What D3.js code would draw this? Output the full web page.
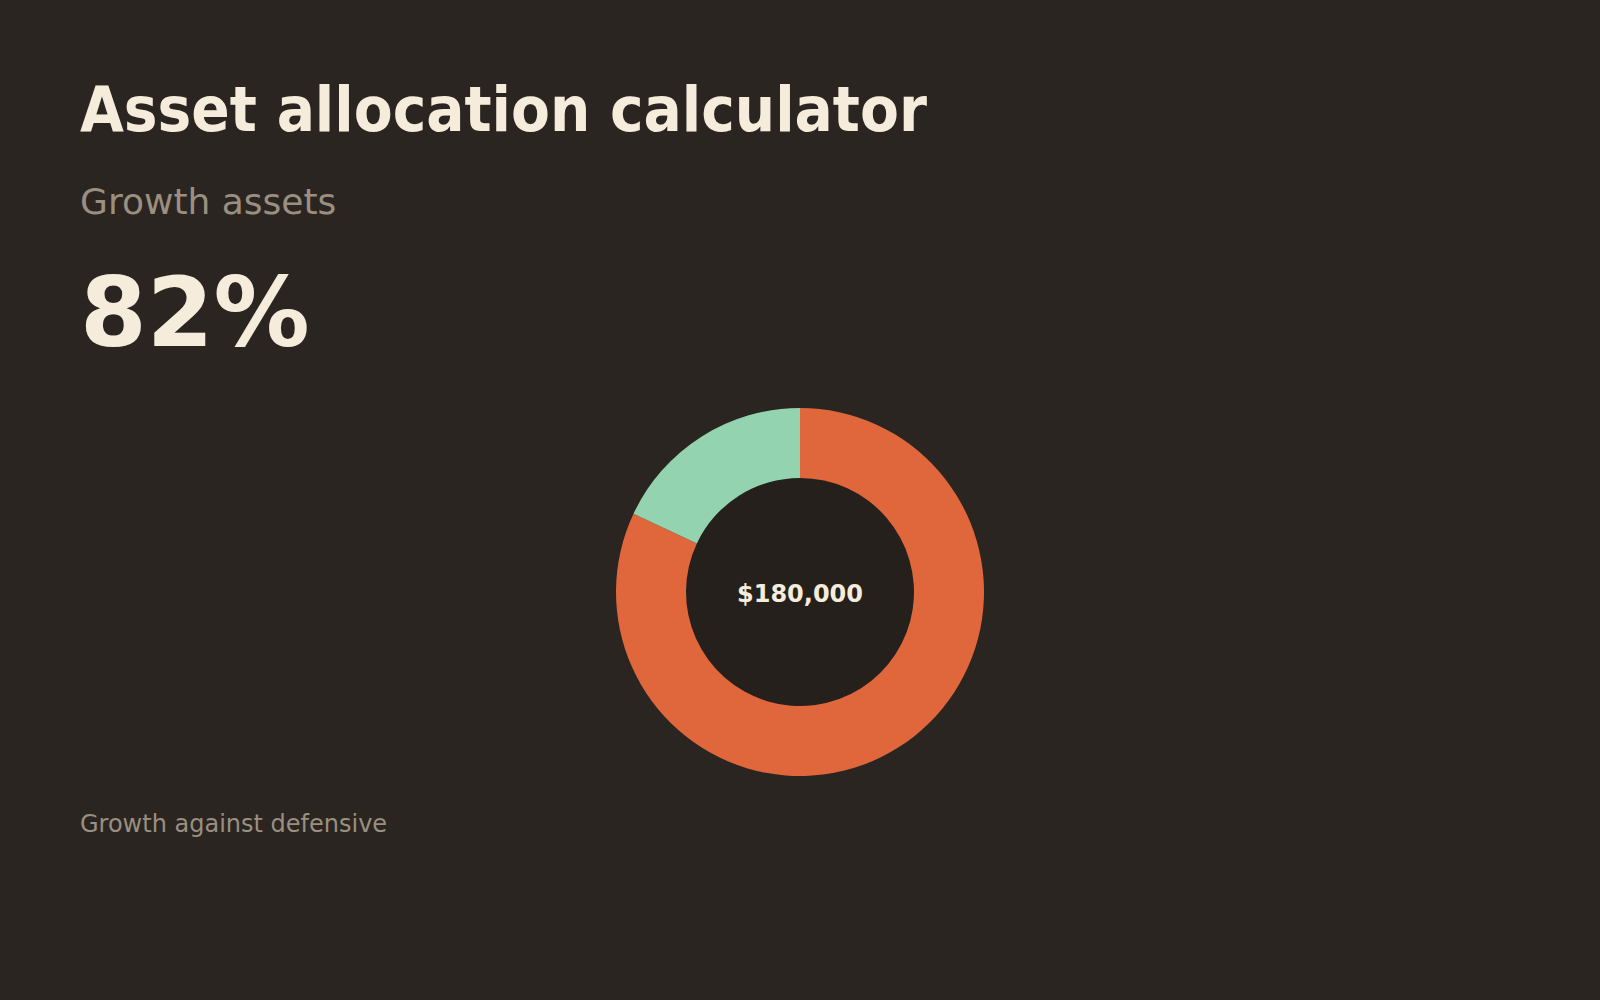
<!DOCTYPE html>
<html lang="en">
<head>
  <meta charset="UTF-8">
  <title>Asset allocation calculator</title>
  <style>
    body { margin: 0; background: #2a2520; }
    text { font-family: "DejaVu Sans", sans-serif; }
  </style>
</head>
<body>
  <svg id="svg" width="1600" height="1000"></svg>
  <script src="https://d3js.org/d3.v7.min.js"></script>
  <script>
    const categories = ['Growth', 'Defensive']
    const shares = [82, 18]
    const total = 180000
    const colors = ['#e0673c', '#93d3b0']

    const svg = d3.select('#svg')

    svg.append('rect')
      .attr('width', 1600)
      .attr('height', 1000)
      .attr('fill', '#2a2520')

    // title is set in the condensed cut
    svg.append('text')
      .attr('x', 80)
      .attr('y', 131)
      .attr('font-size', 63)
      .attr('font-weight', 'bold')
      .style('font-family', '"DejaVu Sans Condensed", "DejaVu Sans", sans-serif')
      .style('font-stretch', 'condensed')
      .attr('fill', '#f5ecdc')
      .text('Asset allocation calculator')

    svg.append('text')
      .attr('x', 80)
      .attr('y', 214)
      .attr('font-size', 36)
      .attr('fill', '#9a8f80')
      .text('Growth assets')

    svg.append('text')
      .attr('x', 80)
      .attr('y', 346)
      .attr('font-size', 96)
      .attr('font-weight', 'bold')
      .attr('fill', '#f5ecdc')
      .text(shares[0] + '%')

    const data = categories.map((c, i) => ({ name: c, value: shares[i] }))

    const pie = d3.pie()
      .sort(null)
      .value(d => d.value)

    const arc = d3.arc()
      .innerRadius(114)
      .outerRadius(184)

    const g = svg.append('g')
      .attr('transform', 'translate(800,592)')

    g.append('circle')
      .attr('r', 114)
      .attr('fill', '#25201b')

    g.selectAll('path')
      .data(pie(data))
      .enter()
      .append('path')
      .attr('d', arc)
      .attr('fill', (d, i) => colors[i])

    g.append('text')
      .attr('text-anchor', 'middle')
      .attr('y', 10)
      .attr('font-size', 24)
      .attr('font-weight', 'bold')
      .attr('fill', '#f5ecdc')
      .text('$' + d3.format(',')(total))

    svg.append('text')
      .attr('x', 80)
      .attr('y', 832)
      .attr('font-size', 24)
      .attr('fill', '#9a8f80')
      .text('Growth against defensive')
  </script>
</body>
</html>
